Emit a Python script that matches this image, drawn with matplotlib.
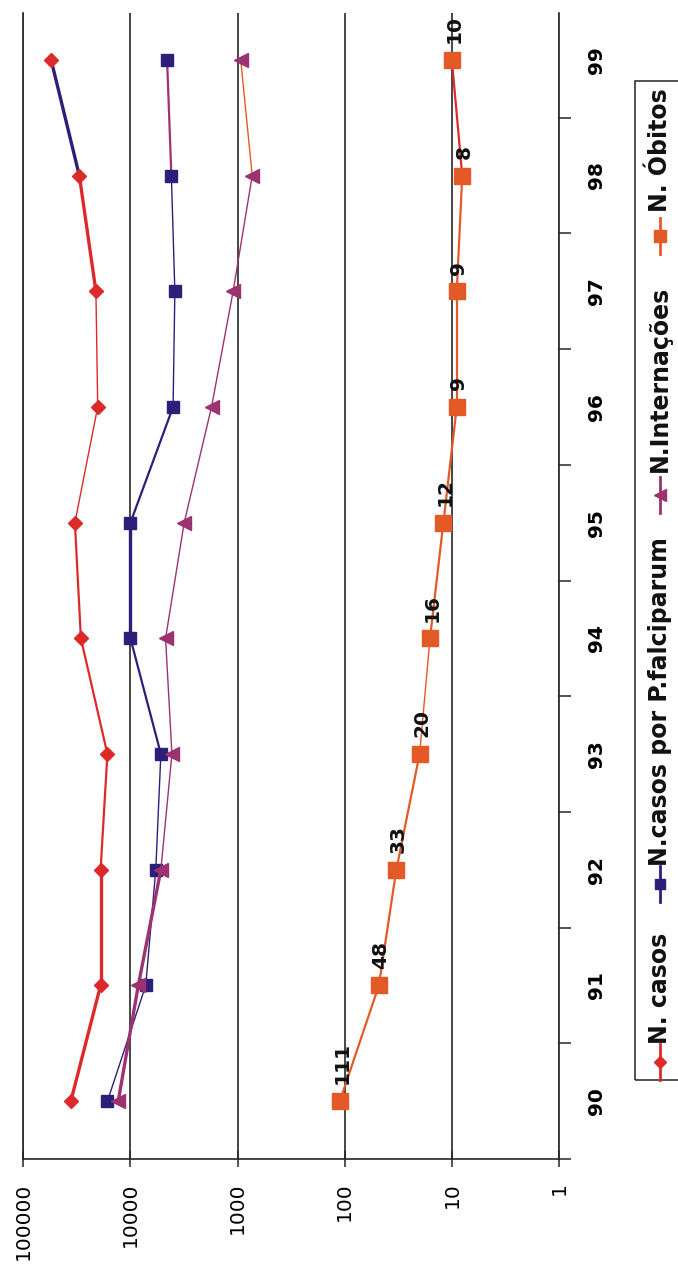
import matplotlib
matplotlib.use("Agg")
import matplotlib.pyplot as plt
from matplotlib.lines import Line2D
from matplotlib.patches import Rectangle
from matplotlib.ticker import NullLocator

# ---------------- data ----------------
anos = [90, 91, 92, 93, 94, 95, 96, 97, 98, 99]
ano_labels = ["90", "91", "92", "93", "94", "95", "96", "97", "98", "99"]
n_casos = [36000, 19000, 19000, 16400, 29000, 33000, 20200, 21000, 30000, 55000]
n_falciparum = [16400, 7200, 5800, 5200, 10000, 10000, 4000, 3850, 4150, 4550]
n_internacoes = [13000, 8450, 5200, 4100, 4700, 3150, 1750, 1100, 730, 935]
n_obitos = [111, 48, 33, 20, 16, 12, 9, 9, 8, 10]
series_names = ["N. casos", "N.casos por P.falciparum", "N.Internações", "N. Óbitos"]
value_ticks = [100000, 10000, 1000, 100, 10, 1]
value_tick_labels = ["100000", "10000", "1000", "100", "10", "1"]

# ---------------- style ----------------
colors = ["#DC2A2A", "#2B1F7A", "#9C3370", "#E35A26"]
markers = ["D", "s", "<", "s"]
msizes = [7.5, 8.6, 10, 11]
TK, MD, TN = 2.4, 1.6, 1.0
seg_widths = [
    [TK, TK, MD, MD, MD, TN, TN, TK, TK],
    [TN, TN, TN, MD, TK, MD, TN, TN, MD],
    [TK, TK, TN, TN, TN, TN, TN, TN, TN],
    [MD, MD, MD, TN, MD, MD, MD, MD, MD],
]
all_series = [n_casos, n_falciparum, n_internacoes, n_obitos]

W, H = 678, 1269
fig = plt.figure(figsize=(W / 100, H / 100), dpi=100)
plt.rcParams['font.family'] = ['DejaVu Sans']

ax_l, ax_r, ax_t, ax_b = 23.3, 559.0, 13.0, 1159.0
ax = fig.add_axes([ax_l / W, 1 - ax_b / H, (ax_r - ax_l) / W, (ax_b - ax_t) / H])
ax.set_xscale("log")
ax.set_xlim(100000, 1)
ax.set_ylim(89.5, 99.405)

grid_c = "#262626"
ax.set_xticks(value_ticks)
ax.set_xticklabels(value_tick_labels, rotation=90, fontsize=14.5)
ax.xaxis.set_minor_locator(NullLocator())
ax.tick_params(axis="x", which="major", direction="inout", length=12, width=1.1,
               color=grid_c, pad=11)
ax.grid(axis="x", which="major", color=grid_c, lw=1.2)

ax.yaxis.tick_right()
ax.set_yticks(anos)
ax.set_yticklabels(ano_labels, rotation=90, va="center", ha="left",
                   fontsize=14.5, fontweight="bold")
ax.set_yticks([a - 0.5 for a in anos], minor=True)
ax.tick_params(axis="y", which="major", length=0, pad=20)
ax.tick_params(axis="y", which="minor", direction="out", length=8.4, width=1.1,
               color=grid_c, right=True, left=False)

for side in ["left", "bottom", "right"]:
    ax.spines[side].set_color(grid_c)
    ax.spines[side].set_linewidth(1.2)
ax.spines["top"].set_visible(False)

# ---------------- series ----------------
n = len(all_series)
for i, vals in enumerate(all_series):
    for k in range(len(anos) - 1):
        c = colors[(i + 1) % n] if k == len(anos) - 2 else colors[i]
        ax.plot(vals[k:k + 2], anos[k:k + 2], color=c, lw=seg_widths[i][k],
                solid_capstyle="round", zorder=3 + i)
    ax.plot(vals, anos, linestyle="none", marker=markers[i], ms=msizes[i],
            color=colors[i], markeredgecolor=colors[i], zorder=3.5 + i)

for v, a in zip(n_obitos, anos):
    ax.annotate(str(v), (v, a), xytext=(1.5, 12), textcoords="offset points",
                rotation=90, ha="center", va="bottom", fontsize=14.5,
                fontweight="heavy", color="#111111", zorder=10)

# ---------------- legend (rotated, drawn by hand) ----------------
fig.add_artist(Rectangle((635 / W, 1 - 1080 / H), 80 / W, (1080 - 81) / H,
                         transform=fig.transFigure, fill=False,
                         edgecolor="#222222", lw=1.1))
leg_x = 660
leg_marker_y = [1062, 884, 495, 236]
leg_text_y = [1044, 866, 472, 212]
for i, name in enumerate(series_names):
    ym = leg_marker_y[i]
    fig.add_artist(Line2D([leg_x / W, leg_x / W], [1 - (ym + 18) / H, 1 - (ym - 18) / H],
                          transform=fig.transFigure, color=colors[i], lw=2.0))
    fig.add_artist(Line2D([leg_x / W], [1 - ym / H], transform=fig.transFigure,
                          marker=markers[i], ms=msizes[i] * 0.85, color=colors[i],
                          linestyle="none"))
    fig.text(leg_x / W, 1 - leg_text_y[i] / H, name, rotation=90, ha="center",
             va="bottom", fontsize=17, fontweight="bold", color="#111111")

fig.savefig("out.png", dpi=100)
